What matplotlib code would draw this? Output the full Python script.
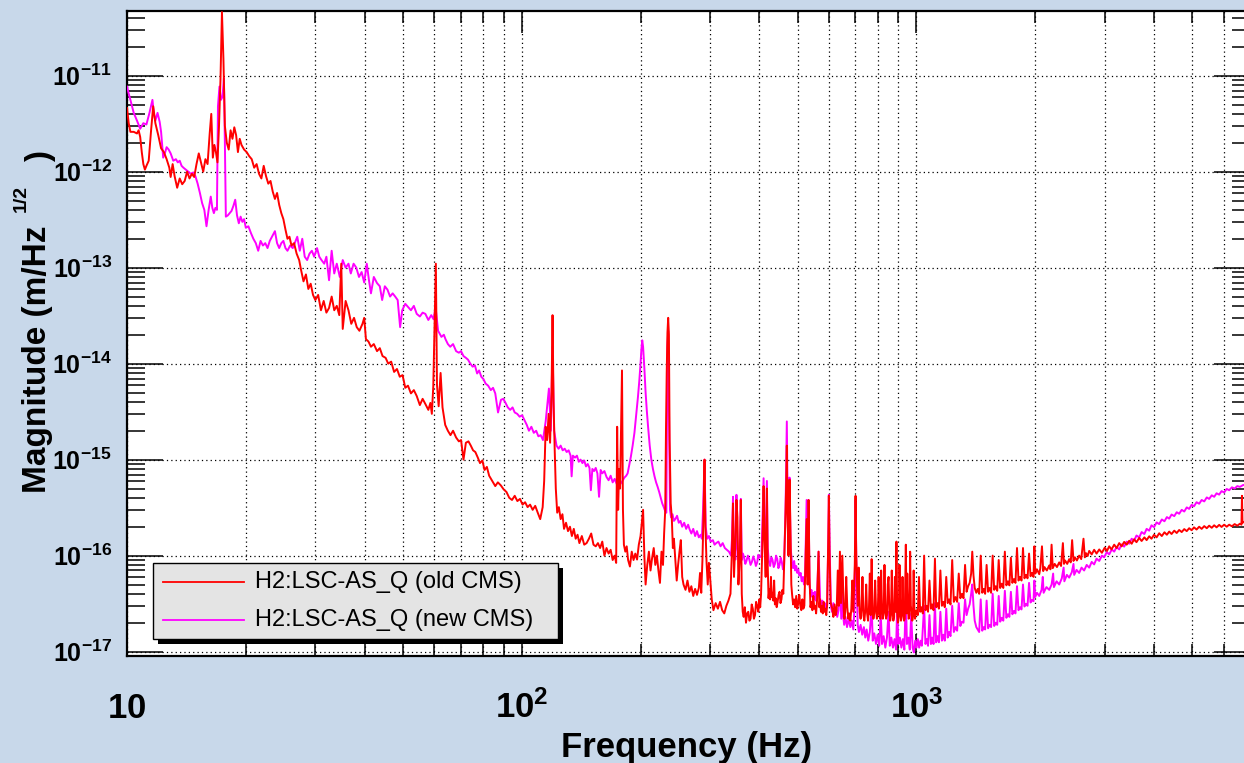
import numpy as np
import matplotlib
matplotlib.use("Agg")
import matplotlib.pyplot as plt
from matplotlib.ticker import FixedLocator, FixedFormatter, LogLocator, NullFormatter
from matplotlib.patches import Rectangle
from matplotlib.lines import Line2D

# ---- data: (frequency Hz, magnitude m/sqrt(Hz)) ----
old_cms = [
    (10.0, 4.6e-12), (10.1, 3.2e-12), (10.2, 2.6e-12), (10.4, 2.6e-12), (10.6, 2.5e-12), (10.7, 2.7e-12),
    (10.8, 2.3e-12), (10.9, 1.6e-12), (11.0, 1.2e-12), (11.1, 1.05e-12), (11.2, 1.15e-12), (11.35, 1.3e-12),
    (11.5, 2.6e-12), (11.65, 4.8e-12), (11.8, 3.2e-12), (12.0, 2.4e-12), (12.2, 1.75e-12), (12.4, 1.6e-12),
    (12.6, 1.35e-12), (12.8, 1.1e-12), (12.9, 8.8e-13), (13.05, 1.2e-12), (13.2, 9e-13), (13.4, 6.8e-13),
    (13.6, 8.5e-13), (13.8, 7.4e-13), (14.0, 8e-13), (14.2, 1.0e-12), (14.4, 8.5e-13), (14.6, 9.5e-13),
    (14.8, 8.8e-13), (15.0, 1.2e-12), (15.2, 1.55e-12), (15.4, 1.25e-12), (15.6, 1.0e-12), (15.8, 1.35e-12),
    (16.0, 1.2e-12), (16.2, 2.5e-12), (16.35, 4.0e-12), (16.5, 1.4e-12), (16.65, 1.9e-12), (16.8, 1.6e-12),
    (16.95, 1.25e-12), (17.1, 2.9e-12), (17.25, 9e-12), (17.4, 4.6e-11), (17.55, 1.5e-11), (17.7, 3.0e-12),
    (17.9, 2.0e-12), (18.1, 1.7e-12), (18.3, 2.7e-12), (18.5, 2.2e-12), (18.7, 2.9e-12), (18.9, 2.4e-12),
    (19.1, 1.6e-12), (19.3, 2.2e-12), (19.5, 1.9e-12), (19.8, 1.7e-12), (20.1, 1.6e-12), (20.4, 1.45e-12),
    (20.7, 1.35e-12), (21.0, 1.1e-12), (21.3, 1.2e-12), (21.6, 9.5e-13), (21.9, 8.5e-13), (22.2, 1.15e-12),
    (22.5, 9e-13), (22.8, 7.5e-13), (23.1, 8e-13), (23.4, 6.2e-13), (23.7, 5.2e-13), (24.0, 6e-13),
    (24.3, 4.5e-13), (24.6, 3.7e-13), (24.9, 3.2e-13), (25.2, 2.5e-13), (25.5, 2.0e-13), (25.8, 2.1e-13),
    (26.1, 1.7e-13), (26.5, 1.8e-13), (26.9, 1.4e-13), (27.3, 1.2e-13), (27.6, 9.5e-14), (28.0, 7.2e-14),
    (28.4, 8.5e-14), (28.8, 6.0e-14), (29.2, 6.8e-14), (29.6, 5.2e-14), (30.0, 4.6e-14), (30.5, 5.2e-14),
    (31.0, 3.6e-14), (31.5, 4.5e-14), (32.0, 3.4e-14), (32.5, 3.8e-14), (33.0, 5.0e-14), (33.5, 3.6e-14),
    (34.0, 4.0e-14), (34.5, 3.2e-14), (34.9, 1.1e-13), (35.2, 2.3e-14), (35.8, 4.5e-14), (36.4, 3.6e-14),
    (37.0, 2.6e-14), (37.6, 3.0e-14), (38.2, 2.4e-14), (38.8, 2.2e-14), (39.5, 2.6e-14), (39.9, 3.0e-14),
    (40.3, 1.8e-14), (40.9, 1.7e-14), (41.5, 1.5e-14), (42.2, 1.6e-14), (43.0, 1.35e-14), (43.7, 1.45e-14),
    (44.4, 1.2e-14), (45.2, 1.15e-14), (45.9, 1.0e-14), (46.7, 1.05e-14), (47.5, 8.2e-15), (48.3, 8.8e-15),
    (49.1, 7.3e-15), (49.9, 7.6e-15), (50.7, 5.6e-15), (51.5, 5.9e-15), (52.4, 4.9e-15), (53.3, 5.3e-15),
    (54.2, 4.6e-15), (55.2, 3.7e-15), (56.1, 4.3e-15), (57.0, 3.8e-15), (58.0, 3.3e-15), (58.7, 3.9e-15),
    (59.2, 3.0e-15), (59.7, 5.8e-15), (60.2, 3.0e-14), (60.6, 1.1e-13), (61.0, 6e-15), (61.6, 3.6e-15),
    (62.3, 8.0e-15), (63.0, 3.5e-15), (64.0, 2.3e-15), (65.0, 2.0e-15), (66.0, 1.8e-15), (67.0, 2.0e-15),
    (68.2, 1.7e-15), (69.3, 1.55e-15), (70.2, 1.6e-15), (71.2, 1.0e-15), (72.2, 1.5e-15), (73.3, 1.55e-15),
    (74.3, 1.4e-15), (75.3, 1.25e-15), (76.3, 1.2e-15), (77.4, 1.05e-15), (78.4, 9.2e-16), (79.5, 9.8e-16),
    (80.5, 7.8e-16), (81.6, 8.4e-16), (82.7, 6.8e-16), (84.2, 6.0e-16), (85.7, 5.3e-16), (87.0, 5.8e-16),
    (88.5, 5.4e-16), (90.0, 4.9e-16), (91.5, 4.6e-16), (93.0, 4.0e-16), (94.5, 3.8e-16), (96.0, 4.2e-16),
    (97.5, 3.7e-16), (99.0, 3.9e-16), (100.5, 3.4e-16), (102.0, 3.6e-16), (103.5, 3.2e-16), (105.0, 3.4e-16),
    (106.6, 3.0e-16), (108.2, 3.3e-16), (109.8, 2.8e-16), (111.4, 2.4e-16), (113.0, 3.2e-16), (114.0, 6e-16),
    (115.0, 2.2e-15), (116.0, 1.6e-15), (117.0, 3.0e-15), (118.0, 1.5e-15), (119.0, 5e-15), (119.7, 3.2e-14),
    (120.4, 4e-15), (121.2, 1.3e-15), (122.0, 5e-16), (123.0, 2.8e-16), (124.2, 3.2e-16), (125.5, 2.4e-16),
    (126.8, 2.7e-16), (128.0, 1.9e-16), (129.5, 2.2e-16), (131.0, 1.8e-16), (132.5, 2.0e-16), (134.0, 1.6e-16),
    (135.5, 1.9e-16), (137.0, 1.5e-16), (138.5, 1.65e-16), (140.0, 1.35e-16), (142.0, 1.6e-16), (144.0, 1.3e-16),
    (146.0, 1.35e-16), (148.0, 1.5e-16), (150.0, 1.7e-16), (152.0, 1.3e-16), (154.0, 1.25e-16), (156.0, 1.35e-16),
    (158.0, 1.2e-16), (160.0, 1.4e-16), (162.0, 1.0e-16), (164.0, 1.2e-16), (166.0, 1.05e-16), (168.0, 1.15e-16),
    (170.0, 9.0e-17), (172.0, 1.0e-16), (173.5, 8.4e-17), (174.5, 2.2e-15), (175.5, 3e-16), (176.5, 8e-16),
    (177.5, 5e-16), (178.5, 2e-15), (179.5, 8.5e-15), (180.5, 3e-16), (181.5, 1.3e-16), (183.0, 1.1e-16),
    (184.5, 1.25e-16), (186.0, 9e-17), (188.0, 7.7e-17), (190.0, 1.1e-16), (192.0, 9e-17), (194.0, 1.05e-16),
    (196.0, 9.1e-17), (198.0, 1.3e-16), (200.0, 1.6e-16), (201.5, 2.2e-16), (203.0, 3.0e-16), (204.5, 1e-16),
    (206.0, 5.0e-17), (208.0, 8e-17), (210.0, 1.1e-16), (212.0, 7e-17), (214.0, 9.5e-17), (216.0, 1.2e-16),
    (218.0, 8e-17), (220.0, 1.0e-16), (222.0, 7e-17), (224.0, 5.2e-17), (226.0, 1.1e-16), (228.0, 8e-17),
    (229.5, 1.7e-16), (231.0, 3e-16), (232.0, 2e-15), (233.0, 8e-15), (234.0, 2.1e-14), (235.0, 3.0e-14),
    (236.0, 2.0e-14), (237.0, 1.6e-15), (238.5, 3.5e-16), (240.0, 2.5e-16), (241.5, 1.2e-16), (243.0, 1.5e-16),
    (245.0, 9e-17), (247.0, 5.5e-17), (249.0, 8e-17), (251.0, 1.1e-16), (253.0, 1.45e-16), (255.0, 6e-17),
    (257.0, 5.0e-17), (260.0, 4.4e-17), (263.0, 5.5e-17), (266.0, 4.2e-17), (269.0, 4.8e-17), (272.0, 3.8e-17),
    (275.0, 4.5e-17), (278.0, 3.9e-17), (281.0, 4.6e-17), (283.0, 6.6e-17), (285.0, 4.1e-17), (287.0, 9e-17),
    (289.0, 3e-16), (290.5, 1.0e-15), (292.0, 2e-16), (294.0, 8.4e-17), (296.0, 5e-17), (298.0, 8.4e-17),
    (300.0, 6e-17), (303.0, 3.5e-17), (306.0, 2.7e-17), (310.0, 3.2e-17), (314.0, 2.8e-17), (318.0, 3.3e-17),
    (322.0, 2.7e-17), (326.0, 2.5e-17), (330.0, 3.0e-17), (334.0, 3.4e-17), (338.0, 4e-17), (341.0, 1.2e-16),
    (343.0, 3.5e-16), (345.0, 6e-17), (348.0, 1.5e-16), (350.0, 3.8e-16), (352.0, 2.5e-16), (354.0, 5e-17),
    (357.0, 1e-16), (359.0, 3.8e-16), (361.0, 4e-17), (363.0, 2.6e-17), (365.0, 2.3e-17), (367.5, 2.9e-17),
    (370.0, 2.0e-17), (372.5, 2.5e-17), (375.0, 2.6e-17), (377.5, 2.1e-17), (380.0, 2.2e-17), (382.5, 3.1e-17),
    (385.0, 2.8e-17), (387.5, 2.2e-17), (390.0, 2.4e-17), (392.5, 3.3e-17), (395.0, 3.0e-17), (397.5, 2.6e-17),
    (400.0, 3.5e-17), (402.0, 2.9e-17), (404.0, 4e-17), (407.0, 1.2e-16), (410.0, 5.3e-16), (412.0, 1.5e-16),
    (415.0, 6e-17), (418.0, 5.0e-16), (420.0, 8e-17), (422.0, 3.6e-17), (424.0, 4.5e-17), (426.0, 3.5e-17),
    (428.0, 6e-17), (430.0, 3.7e-17), (432.0, 4.1e-17), (434.0, 3.4e-17), (436.0, 5.5e-17), (438.0, 3.1e-17),
    (440.0, 3.6e-17), (442.5, 2.9e-17), (445.0, 3.3e-17), (447.5, 3.9e-17), (450.0, 4.2e-17), (452.5, 3.2e-17),
    (455.0, 3.5e-17), (457.5, 4.4e-17), (460.0, 4e-17), (465.0, 2e-16), (468.0, 6e-16), (469.5, 1.4e-15),
    (471.0, 3e-16), (474.0, 1e-16), (477.0, 6.2e-16), (480.0, 1.5e-16), (482.0, 5e-17), (484.0, 4e-17),
    (487.0, 3.1e-17), (490.0, 3.5e-17), (493.0, 2.9e-17), (496.0, 3.8e-17), (499.0, 2.8e-17), (502.0, 3.2e-17),
    (505.0, 3.9e-17), (508.0, 3.0e-17), (511.0, 2.7e-17), (514.0, 3.5e-17), (517.0, 2.8e-17), (520.0, 3.0e-17),
    (524.0, 1e-16), (527.0, 2.4e-16), (530.0, 5e-17), (533.0, 3.8e-16), (536.0, 6e-17), (539.0, 2.9e-17),
    (542.0, 3.3e-17), (545.0, 2.7e-17), (548.0, 3.8e-17), (551.0, 2.8e-17), (554.0, 3.0e-17), (557.0, 2.5e-17),
    (560.0, 3.4e-17), (565.0, 1.1e-16), (567.5, 2.9e-17), (570.0, 3.5e-17), (573.0, 2.6e-17), (576.0, 3.0e-17),
    (579.0, 2.5e-17), (582.0, 3.3e-17), (585.0, 2.6e-17), (588.0, 2.8e-17), (591.0, 2.4e-17), (594.0, 3.1e-17),
    (598.0, 1.5e-16), (600.0, 4.2e-16), (602.0, 1.2e-16), (606.0, 3.3e-17), (612.0, 2.8e-17), (616.0, 2.3e-17),
    (620.0, 3.1e-17), (624.0, 2.4e-17), (628.0, 2.7e-17), (632.0, 7e-17), (636.0, 3e-17), (640.0, 1.1e-16),
    (644.0, 3.2e-17), (649.0, 1.0e-16), (654.0, 2.8e-17), (657.0, 2.2e-17), (660.0, 2.6e-17), (664.0, 6e-17),
    (668.0, 2.9e-17), (672.0, 2.2e-17), (676.0, 2.5e-17), (680.0, 2.1e-17), (684.0, 2.8e-17), (688.0, 5.5e-17),
    (692.0, 2.6e-17), (698.0, 8e-17), (701.0, 4.2e-16), (704.0, 1.0e-16), (710.0, 3.0e-17), (714.0, 7.5e-17),
    (718.0, 2.6e-17), (722.0, 2.2e-17), (726.0, 2.8e-17), (730.0, 6e-17), (734.0, 2.4e-17), (738.0, 2.1e-17),
    (742.0, 2.7e-17), (746.0, 5e-17), (750.0, 2.5e-17), (754.0, 2.1e-17), (758.0, 2.8e-17), (762.0, 6.5e-17),
    (766.0, 2.4e-17), (770.0, 9.2e-17), (774.0, 2.7e-17), (778.0, 2.2e-17), (782.0, 2.5e-17), (786.0, 5.5e-17),
    (790.0, 2.8e-17), (794.0, 2.2e-17), (798.0, 2.4e-17), (802.0, 6e-17), (806.0, 2.6e-17), (810.0, 2.2e-17),
    (814.0, 7e-17), (818.0, 2.7e-17), (822.0, 2.2e-17), (826.0, 2.5e-17), (830.0, 8e-17), (834.0, 2.8e-17),
    (838.0, 2.2e-17), (842.0, 2.4e-17), (846.0, 5e-17), (850.0, 6e-17), (854.0, 2.6e-17), (858.0, 2.1e-17),
    (862.0, 2.4e-17), (866.0, 7e-17), (870.0, 2.7e-17), (874.0, 2.1e-17), (878.0, 2.3e-17), (882.0, 6e-17),
    (886.0, 2.6e-17), (890.0, 1.4e-16), (894.0, 2.5e-17), (898.0, 2.0e-17), (902.0, 2.3e-17), (906.0, 8e-17),
    (910.0, 2.7e-17), (914.0, 2.1e-17), (918.0, 2.4e-17), (922.0, 6e-17), (926.0, 2.6e-17), (930.0, 2.1e-17),
    (934.0, 2.2e-17), (940.0, 1.3e-16), (944.0, 2.5e-17), (948.0, 6.5e-17), (952.0, 2.8e-17), (956.0, 2.2e-17),
    (960.0, 2.4e-17), (964.0, 1.1e-16), (968.0, 3e-17), (972.0, 2.6e-17), (976.0, 2.1e-17), (980.0, 2.3e-17),
    (984.0, 7e-17), (988.0, 2.7e-17), (992.0, 2.2e-17), (996.0, 2.5e-17),
    (1000, 2.7e-17), (1008, 2.4e-17), (1015, 6e-17), (1022, 2.6e-17), (1030, 2.9e-17), (1038, 2.5e-17),
    (1046, 1.0e-16), (1054, 2.7e-17), (1062, 3.0e-17), (1070, 2.6e-17), (1079, 5.5e-17), (1088, 2.8e-17),
    (1096, 3.1e-17), (1105, 2.7e-17), (1114, 9.3e-17), (1122, 2.9e-17), (1131, 3.2e-17), (1140, 2.8e-17),
    (1150, 7e-17), (1160, 3.0e-17), (1170, 3.3e-17), (1180, 2.9e-17), (1190, 6e-17), (1200, 3.2e-17),
    (1210, 3.5e-17), (1220, 3.1e-17), (1232, 9e-17), (1244, 3.3e-17), (1256, 3.7e-17), (1268, 3.3e-17),
    (1280, 6.5e-17), (1292, 3.6e-17), (1304, 4.0e-17), (1316, 3.6e-17), (1328, 8e-17), (1340, 4.2e-17),
    (1352, 4.8e-17), (1364, 5.2e-17), (1376, 6.5e-17), (1385, 1.1e-16), (1395, 6.2e-17), (1405, 4.6e-17),
    (1418, 4.1e-17), (1430, 4.5e-17), (1442, 4.0e-17), (1455, 1.0e-16), (1468, 4.1e-17), (1480, 4.5e-17),
    (1493, 4.0e-17), (1506, 8e-17), (1519, 4.2e-17), (1532, 4.6e-17), (1546, 4.1e-17), (1560, 1.0e-16),
    (1574, 4.4e-17), (1588, 4.8e-17), (1602, 4.3e-17), (1616, 9e-17), (1630, 4.6e-17), (1645, 5.1e-17),
    (1660, 4.6e-17), (1675, 1.1e-16), (1690, 4.9e-17), (1705, 5.4e-17), (1720, 4.9e-17), (1735, 9.5e-17),
    (1750, 5.2e-17), (1766, 5.7e-17), (1782, 5.2e-17), (1798, 1.2e-16), (1814, 5.5e-17), (1830, 6.0e-17),
    (1846, 5.5e-17), (1862, 1.2e-16), (1878, 5.8e-17), (1895, 6.3e-17), (1912, 5.8e-17), (1929, 1.05e-16),
    (1946, 6.1e-17), (1963, 6.6e-17), (1980, 6.0e-17), (1990, 1.25e-16),
    (2000, 6.5e-17), (2020, 7.2e-17), (2047, 6.4e-17), (2060, 7.4e-17), (2080, 1.25e-16), (2095, 6.9e-17),
    (2110, 7.6e-17), (2140, 7.0e-17), (2170, 7.9e-17), (2185, 7.2e-17), (2200, 1.3e-16), (2215, 7.4e-17),
    (2240, 8.2e-17), (2270, 7.6e-17), (2300, 8.5e-17), (2325, 7.8e-17), (2350, 1.35e-16), (2365, 8.2e-17),
    (2380, 8.9e-17), (2410, 8.2e-17), (2438, 9.2e-17), (2460, 8.5e-17), (2480, 1.45e-16), (2500, 8.8e-17),
    (2520, 9.6e-17), (2550, 8.9e-17), (2584, 1.0e-16), (2615, 9.2e-17), (2650, 1.5e-16), (2670, 9.6e-17),
    (2690, 1.06e-16), (2715, 9.9e-17), (2740, 1.12e-16), (2780, 1.03e-16), (2820, 1.15e-16), (2860, 1.05e-16),
    (2905, 1.16e-16), (2950, 1.07e-16), (3000, 1.21e-16), (3040, 1.12e-16), (3079, 1.25e-16), (3120, 1.16e-16),
    (3170, 1.3e-16), (3215, 1.2e-16), (3264, 1.35e-16), (3310, 1.25e-16), (3360, 1.39e-16), (3410, 1.3e-16),
    (3460, 1.43e-16), (3510, 1.33e-16), (3560, 1.48e-16), (3610, 1.38e-16), (3668, 1.53e-16), (3720, 1.42e-16),
    (3780, 1.55e-16), (3830, 1.45e-16), (3888, 1.59e-16), (3940, 1.5e-16), (4000, 1.65e-16), (4060, 1.55e-16),
    (4121, 1.71e-16), (4185, 1.6e-16), (4250, 1.75e-16), (4310, 1.65e-16), (4369, 1.78e-16), (4430, 1.68e-16),
    (4500, 1.82e-16), (4565, 1.72e-16), (4631, 1.85e-16), (4700, 1.76e-16), (4770, 1.89e-16), (4840, 1.8e-16),
    (4909, 1.93e-16), (4980, 1.84e-16), (5050, 1.97e-16), (5125, 1.87e-16), (5204, 2.0e-16), (5280, 1.9e-16),
    (5360, 2.03e-16), (5440, 1.93e-16), (5516, 2.05e-16), (5600, 1.95e-16), (5680, 2.07e-16), (5760, 1.97e-16),
    (5848, 2.09e-16), (5930, 1.99e-16), (6020, 2.1e-16), (6110, 2.0e-16), (6199, 2.1e-16), (6300, 2.02e-16),
    (6400, 2.13e-16), (6500, 2.05e-16), (6600, 2.15e-16), (6660, 2.1e-16), (6680, 4.2e-16), (6700, 2.2e-16),
    (6770, 2.25e-16), (6850, 2.15e-16), (7000, 2.28e-16),
]

new_cms = [
    (10.0, 7.7e-12), (10.1, 6.5e-12), (10.2, 5.6e-12), (10.4, 4.1e-12), (10.6, 3.4e-12), (10.8, 2.8e-12),
    (10.9, 3.0e-12), (11.0, 3.2e-12), (11.2, 3.1e-12), (11.4, 4.1e-12), (11.6, 5.6e-12), (11.7, 4.0e-12),
    (11.8, 3.4e-12), (11.95, 4.1e-12), (12.1, 3.3e-12), (12.2, 2.6e-12), (12.35, 1.4e-12), (12.5, 1.6e-12),
    (12.6, 1.8e-12), (12.75, 1.7e-12), (12.9, 1.55e-12), (13.1, 1.3e-12), (13.3, 1.35e-12), (13.45, 1.25e-12),
    (13.6, 1.3e-12), (13.75, 1.15e-12), (13.9, 1.1e-12), (14.1, 1.05e-12), (14.3, 1.0e-12), (14.5, 9.5e-13),
    (14.7, 9.8e-13), (14.9, 9e-13), (15.1, 7.5e-13), (15.3, 6e-13), (15.5, 4.7e-13), (15.7, 4e-13),
    (15.9, 2.7e-13), (16.1, 4e-13), (16.3, 5.5e-13), (16.45, 4.2e-13), (16.6, 3.7e-13), (16.75, 4.2e-13),
    (16.9, 4e-13), (17.0, 4.8e-12), (17.15, 7.7e-12), (17.3, 5.6e-12), (17.45, 6e-12), (17.6, 9.4e-12),
    (17.7, 2e-12), (17.8, 3.4e-13), (18.0, 3.5e-13), (18.2, 3.7e-13), (18.4, 3.9e-13), (18.6, 4.4e-13),
    (18.8, 5.1e-13), (19.0, 3.5e-13), (19.2, 2.9e-13), (19.4, 3.4e-13), (19.6, 3.0e-13), (19.8, 3.2e-13),
    (20.0, 2.6e-13), (20.3, 2.7e-13), (20.6, 2.3e-13), (20.9, 2.0e-13), (21.2, 1.8e-13), (21.5, 1.5e-13),
    (21.8, 1.9e-13), (22.1, 1.7e-13), (22.4, 1.8e-13), (22.7, 1.6e-13), (23.0, 1.9e-13), (23.3, 2.1e-13),
    (23.7, 2.4e-13), (24.0, 1.8e-13), (24.3, 1.6e-13), (24.6, 1.8e-13), (24.9, 1.9e-13), (25.2, 1.6e-13),
    (25.5, 1.5e-13), (25.9, 1.7e-13), (26.3, 1.6e-13), (26.6, 1.8e-13), (27.0, 2.1e-13), (27.4, 1.5e-13),
    (27.8, 2.0e-13), (28.2, 1.3e-13), (28.6, 1.2e-13), (29.0, 1.4e-13), (29.4, 1.5e-13), (29.8, 1.3e-13),
    (30.3, 1.6e-13), (30.7, 1.3e-13), (31.1, 1.2e-13), (31.6, 1.1e-13), (32.0, 1.3e-13), (32.5, 7.4e-14),
    (33.0, 1.5e-13), (33.5, 8.7e-14), (34.0, 1.1e-13), (34.6, 8e-14), (35.2, 1.2e-13), (35.8, 1.0e-13),
    (36.4, 1.1e-13), (36.9, 8.7e-14), (37.5, 1.1e-13), (38.1, 1.0e-13), (38.7, 8e-14), (39.3, 9e-14),
    (39.9, 7.0e-14), (40.5, 1.1e-13), (41.0, 7.5e-14), (41.5, 5.4e-14), (42.2, 8e-14), (43.0, 6.9e-14),
    (43.7, 6.4e-14), (44.3, 4.6e-14), (45.0, 6.4e-14), (45.7, 5.9e-14), (46.4, 5.0e-14), (47.1, 5.4e-14),
    (47.8, 5.0e-14), (48.5, 4.6e-14), (49.2, 2.4e-14), (49.8, 3.6e-14), (50.7, 4.2e-14), (51.5, 3.9e-14),
    (52.4, 3.6e-14), (53.3, 4.0e-14), (54.2, 3.3e-14), (55.2, 3.1e-14), (56.1, 3.4e-14), (57.0, 3.3e-14),
    (58.0, 2.85e-14), (59.0, 3.2e-14), (59.8, 2.9e-14), (60.5, 3.9e-14), (61.4, 2.2e-14), (62.6, 1.9e-14),
    (63.5, 2.0e-14), (64.1, 1.8e-14), (65.0, 1.6e-14), (65.9, 1.5e-14), (67.0, 1.6e-14), (68.2, 1.35e-14),
    (69.3, 1.3e-14), (70.2, 1.35e-14), (71.2, 1.2e-14), (72.2, 1.15e-14), (73.1, 1.1e-14), (74.1, 1.0e-14),
    (75.1, 9.3e-15), (76.1, 9.6e-15), (77.1, 7.9e-15), (78.0, 8.5e-15), (79.0, 7.3e-15), (80.0, 6.9e-15),
    (81.0, 6.2e-15), (82.2, 5.9e-15), (83.5, 5.3e-15), (84.6, 5.6e-15), (85.7, 4.9e-15), (87.1, 3.1e-15),
    (88.6, 4.2e-15), (89.8, 4.3e-15), (91.0, 3.9e-15), (92.2, 3.5e-15), (93.5, 3.3e-15), (94.8, 3.5e-15),
    (96.0, 3.1e-15), (97.4, 3.0e-15), (98.8, 2.8e-15), (100.2, 2.9e-15), (101.5, 2.6e-15), (103.0, 2.3e-15),
    (104.3, 2.0e-15), (105.8, 2.2e-15), (107.3, 1.9e-15), (108.8, 2.0e-15), (110.2, 1.75e-15), (111.7, 1.8e-15),
    (113.2, 1.6e-15), (115.0, 2.5e-15), (117.2, 5.5e-15), (118.5, 2e-15), (119.7, 1.5e-14), (120.8, 2e-15),
    (122.5, 1.4e-15), (124.0, 1.3e-15), (125.5, 1.4e-15), (127.0, 1.25e-15), (128.5, 1.3e-15), (130.0, 1.2e-15),
    (131.5, 1.25e-15), (133.0, 1.1e-15), (133.8, 6.7e-16), (134.8, 1.1e-15), (136.5, 1.05e-15), (138.0, 1.1e-15),
    (139.5, 9.5e-16), (141.0, 1.0e-15), (142.5, 9.2e-16), (144.0, 9.8e-16), (145.5, 8.5e-16), (147.0, 9.0e-16),
    (148.5, 8.2e-16), (149.7, 4.8e-16), (151.0, 8.0e-16), (152.5, 7.6e-16), (154.0, 8.2e-16), (155.5, 7.2e-16),
    (157.0, 4.1e-16), (158.5, 7.8e-16), (160.0, 7.2e-16), (162.0, 7.6e-16), (164.0, 6.6e-16), (166.0, 6.1e-16),
    (168.0, 6.8e-16), (170.0, 5.8e-16), (172.0, 6.3e-16), (174.0, 5.6e-16), (176.0, 6.4e-16), (178.0, 5.6e-16),
    (180.0, 6.0e-16), (182.0, 6.5e-16), (184.0, 6.8e-16), (185.5, 7.2e-16), (187.0, 8.5e-16), (189.0, 1.07e-15),
    (191.0, 1.4e-15), (193.0, 1.9e-15), (195.0, 2.9e-15), (197.0, 4.5e-15), (198.5, 6.5e-15), (200.0, 1.0e-14),
    (201.0, 1.4e-14), (202.0, 1.75e-14), (203.0, 1.5e-14), (204.5, 9e-15), (206.0, 5e-15), (207.5, 3.2e-15),
    (209.0, 2.2e-15), (211.0, 1.4e-15), (213.0, 1.0e-15), (215.0, 8.0e-16), (217.0, 6.7e-16), (219.0, 5.8e-16),
    (221.0, 5.2e-16), (223.0, 4.6e-16), (225.0, 4.0e-16), (227.0, 3.5e-16), (229.0, 3.2e-16), (231.0, 2.9e-16),
    (232.5, 2.8e-16), (234.0, 1.5e-14), (235.0, 2.2e-14), (236.0, 4e-15), (237.5, 3.0e-16), (239.0, 2.5e-16),
    (241.0, 2.7e-16), (243.0, 2.3e-16), (245.0, 2.4e-16), (247.5, 2.6e-16), (250.0, 2.2e-16), (252.5, 2.3e-16),
    (255.0, 2.0e-16), (258.0, 2.2e-16), (261.0, 1.9e-16), (264.0, 2.1e-16), (266.0, 1.9e-16), (269.0, 1.7e-16),
    (272.0, 1.9e-16), (275.0, 1.6e-16), (278.0, 1.8e-16), (281.0, 1.55e-16), (284.0, 1.65e-16), (286.0, 1.5e-16),
    (288.0, 3e-16), (290.5, 1.0e-15), (292.5, 2e-16), (295.0, 1.5e-16), (298.0, 1.6e-16), (301.0, 1.4e-16),
    (305.0, 1.45e-16), (308.0, 1.3e-16), (311.0, 1.35e-16), (315.0, 1.4e-16), (319.0, 1.25e-16), (323.0, 1.35e-16),
    (327.0, 1.2e-16), (331.0, 1.15e-16), (335.0, 1.1e-16), (339.0, 1.0e-16), (341.0, 1.5e-16), (343.0, 4.1e-16),
    (345.0, 1.0e-16), (348.0, 9.1e-17), (350.0, 4.3e-16), (352.0, 1.2e-16), (355.0, 9.5e-17), (357.5, 1.5e-16),
    (359.0, 3.9e-16), (361.0, 9.0e-17), (363.5, 1.05e-16), (366.0, 9.5e-17), (368.5, 8.2e-17), (371.0, 8.8e-17),
    (374.0, 1.0e-16), (377.0, 9.2e-17), (380.0, 8.0e-17), (383.0, 8.6e-17), (386.0, 9.8e-17), (389.0, 9.0e-17),
    (392.0, 7.8e-17), (395.0, 8.5e-17), (397.5, 1.02e-16), (400.0, 9.5e-17), (405.0, 1.0e-16), (407.0, 2e-16),
    (410.0, 6.4e-16), (412.0, 2e-16), (415.0, 1.1e-16), (418.0, 6.0e-16), (420.0, 1.2e-16), (423.0, 8.6e-17),
    (426.0, 7.8e-17), (429.0, 9.6e-17), (432.0, 9e-17), (435.0, 7.6e-17), (438.0, 8.2e-17), (441.0, 1.0e-16),
    (444.0, 9.2e-17), (447.0, 7.4e-17), (450.0, 8.0e-17), (453.0, 9.5e-17), (456.0, 8.6e-17), (459.0, 7.2e-17),
    (462.0, 8.0e-17), (466.0, 3e-16), (469.5, 2.5e-15), (472.0, 3e-16), (475.0, 1.5e-16), (477.0, 6.5e-16),
    (480.0, 1.2e-16), (484.0, 8.4e-17), (487.0, 7.4e-17), (490.0, 8.8e-17), (493.0, 7.0e-17), (496.0, 7.8e-17),
    (499.0, 6.6e-17), (502.0, 7.2e-17), (505.0, 6.2e-17), (509.0, 6.6e-17), (512.0, 5.4e-17), (516.0, 6.0e-17),
    (519.0, 5.0e-17), (522.0, 5.6e-17), (527.0, 3.8e-16), (530.0, 6e-17), (533.0, 3.8e-16), (536.0, 5.0e-17),
    (539.0, 4.0e-17), (542.0, 4.4e-17), (545.0, 3.7e-17), (547.0, 4.1e-17), (550.0, 3.5e-17), (553.0, 4.2e-17),
    (556.0, 3.4e-17), (560.0, 3.8e-17), (565.0, 1.1e-16), (570.0, 3.6e-17), (574.0, 3.0e-17), (578.0, 3.4e-17),
    (582.0, 2.8e-17), (586.0, 3.2e-17), (590.0, 2.6e-17), (594.0, 3.0e-17), (598.0, 1.5e-16), (600.0, 4.3e-16),
    (603.0, 1.2e-16), (607.0, 3.0e-17), (611.0, 2.6e-17), (616.0, 3.2e-17), (620.0, 2.5e-17), (625.0, 2.9e-17),
    (630.0, 2.3e-17), (635.0, 2.7e-17), (640.0, 6e-17), (645.0, 2.2e-17), (649.0, 5.5e-17), (652.0, 2.4e-17),
    (656.0, 1.9e-17), (661.0, 2.3e-17), (667.0, 1.8e-17), (673.0, 2.2e-17), (680.0, 1.8e-17), (686.0, 2.1e-17),
    (692.0, 1.7e-17), (697.0, 3e-17), (701.0, 3.8e-16), (705.0, 6e-17), (710.0, 1.9e-17), (715.0, 1.6e-17),
    (722.0, 1.9e-17), (729.0, 1.5e-17), (736.0, 1.8e-17), (742.0, 1.4e-17), (748.0, 1.7e-17), (755.0, 1.3e-17),
    (762.0, 1.6e-17), (770.0, 3e-17), (775.0, 1.3e-17), (782.0, 1.55e-17), (790.0, 1.2e-17), (797.0, 1.5e-17),
    (805.0, 1.15e-17), (812.0, 2.5e-17), (818.0, 1.2e-17), (826.0, 1.45e-17), (834.0, 1.1e-17), (842.0, 1.4e-17),
    (850.0, 2.6e-17), (856.0, 1.15e-17), (864.0, 1.4e-17), (872.0, 1.1e-17), (880.0, 1.35e-17), (888.0, 1.05e-17),
    (894.0, 3e-17), (900.0, 1.2e-17), (908.0, 1.4e-17), (916.0, 1.1e-17), (924.0, 1.35e-17), (932.0, 1.05e-17),
    (940.0, 4e-17), (946.0, 1.2e-17), (954.0, 1.4e-17), (962.0, 1.05e-17), (970.0, 2.5e-17), (978.0, 1.1e-17),
    (985.0, 9.8e-18), (993.0, 1.3e-17), (1000, 1.1e-17),
    (1008, 1.35e-17), (1016, 1.1e-17), (1024, 1.3e-17), (1032, 1.15e-17), (1046, 3.0e-17), (1054, 1.2e-17),
    (1062, 1.35e-17), (1070, 1.15e-17), (1079, 2.4e-17), (1088, 1.2e-17), (1096, 1.4e-17), (1105, 1.2e-17),
    (1114, 3.2e-17), (1122, 1.25e-17), (1131, 1.45e-17), (1140, 1.25e-17), (1150, 2.6e-17), (1160, 1.3e-17),
    (1170, 1.5e-17), (1180, 1.3e-17), (1190, 2.8e-17), (1200, 1.4e-17), (1210, 1.6e-17), (1220, 1.45e-17),
    (1232, 3e-17), (1244, 1.6e-17), (1256, 1.8e-17), (1268, 1.65e-17), (1280, 3.2e-17), (1292, 1.85e-17),
    (1304, 2.05e-17), (1316, 2.0e-17), (1328, 3.5e-17), (1340, 2.4e-17), (1352, 2.8e-17), (1364, 3.1e-17),
    (1376, 4.0e-17), (1385, 5.0e-17), (1395, 3.0e-17), (1405, 2.1e-17), (1418, 1.8e-17), (1430, 1.7e-17),
    (1442, 1.6e-17), (1455, 3.5e-17), (1468, 1.65e-17), (1480, 1.8e-17), (1493, 1.7e-17), (1506, 3.4e-17),
    (1519, 1.75e-17), (1532, 1.9e-17), (1546, 1.8e-17), (1560, 4e-17), (1574, 1.85e-17), (1588, 2.0e-17),
    (1602, 1.9e-17), (1616, 3.8e-17), (1630, 2.05e-17), (1645, 2.25e-17), (1660, 2.1e-17), (1675, 4.3e-17),
    (1690, 2.25e-17), (1705, 2.45e-17), (1720, 2.3e-17), (1735, 4.2e-17), (1750, 2.45e-17), (1766, 2.65e-17),
    (1782, 2.5e-17), (1798, 4.8e-17), (1814, 2.7e-17), (1830, 2.9e-17), (1846, 2.75e-17), (1862, 5e-17),
    (1878, 2.95e-17), (1895, 3.15e-17), (1912, 3.0e-17), (1929, 5.2e-17), (1946, 3.25e-17), (1963, 3.45e-17),
    (1980, 3.35e-17), (1990, 5.5e-17),
    (2000, 3.7e-17), (2020, 4.1e-17), (2047, 3.8e-17), (2075, 4.4e-17), (2090, 6e-17), (2100, 4.1e-17),
    (2135, 4.7e-17), (2170, 4.4e-17), (2200, 5.0e-17), (2220, 6.5e-17), (2230, 4.7e-17), (2265, 5.4e-17),
    (2300, 5.0e-17), (2335, 5.8e-17), (2360, 7.5e-17), (2370, 5.4e-17), (2405, 6.3e-17), (2438, 5.9e-17),
    (2475, 6.7e-17), (2500, 8.2e-17), (2510, 6.3e-17), (2545, 7.1e-17), (2584, 6.6e-17), (2620, 7.5e-17),
    (2660, 7.0e-17), (2700, 8.0e-17), (2740, 7.5e-17), (2780, 8.6e-17), (2820, 8.1e-17), (2860, 9.3e-17),
    (2905, 8.8e-17), (2950, 1.0e-16), (2990, 9.6e-17), (3035, 1.09e-16), (3079, 1.03e-16), (3125, 1.16e-16),
    (3170, 1.1e-16), (3215, 1.23e-16), (3264, 1.16e-16), (3310, 1.31e-16), (3360, 1.24e-16), (3410, 1.4e-16),
    (3460, 1.33e-16), (3510, 1.5e-16), (3560, 1.43e-16), (3610, 1.62e-16), (3668, 1.55e-16), (3720, 1.76e-16),
    (3780, 1.68e-16), (3830, 1.9e-16), (3888, 1.82e-16), (3940, 2.07e-16), (4000, 1.98e-16), (4060, 2.22e-16),
    (4121, 2.13e-16), (4185, 2.38e-16), (4250, 2.28e-16), (4310, 2.52e-16), (4369, 2.43e-16), (4430, 2.68e-16),
    (4500, 2.58e-16), (4565, 2.83e-16), (4631, 2.73e-16), (4700, 3.0e-16), (4770, 2.88e-16), (4840, 3.18e-16),
    (4909, 3.07e-16), (4980, 3.38e-16), (5050, 3.27e-16), (5125, 3.6e-16), (5204, 3.47e-16), (5280, 3.8e-16),
    (5360, 3.67e-16), (5440, 4.04e-16), (5516, 3.9e-16), (5600, 4.25e-16), (5680, 4.1e-16), (5760, 4.46e-16),
    (5848, 4.32e-16), (5930, 4.7e-16), (6020, 4.55e-16), (6110, 4.95e-16), (6199, 4.8e-16), (6300, 5.15e-16),
    (6400, 5.0e-16), (6500, 5.3e-16), (6600, 5.2e-16), (6730, 5.45e-16), (6850, 5.4e-16), (7000, 5.65e-16),
]

legend_labels = ["H2:LSC-AS_Q (old CMS)", "H2:LSC-AS_Q (new CMS)"]
x_major = [10, 100, 1000]
x_major_labels = [r"$\mathbf{10}$", r"$\mathbf{10^{2}}$", r"$\mathbf{10^{3}}$"]
x_minor = [20, 30, 40, 50, 60, 70, 80, 90, 200, 300, 400, 500, 600, 700, 800, 900,
           2000, 3000, 4000, 5000, 6000]
y_major = [1e-17, 1e-16, 1e-15, 1e-14, 1e-13, 1e-12, 1e-11]
y_major_labels = [r"$\mathbf{10^{-%d}}$" % e for e in range(17, 10, -1)]

W, H = 1244, 763
BG = "#c8d8ea"
RED = "#ff0000"
MAGENTA = "#ff00ff"

plt.rcParams["font.family"] = ["Liberation Sans", "DejaVu Sans"]
plt.rcParams["mathtext.fontset"] = "custom"
plt.rcParams["mathtext.rm"] = "Liberation Sans"
plt.rcParams["mathtext.bf"] = "Liberation Sans:bold"
plt.rcParams["mathtext.it"] = "Liberation Sans:italic"


def fx(px):
    return px / W


def fy(py):
    return 1 - py / H


fig = plt.figure(figsize=(W / 100, H / 100), dpi=100, facecolor=BG)
ax = fig.add_axes([fx(127), fy(656), (1250 - 127) / W, (656 - 11) / H])
ax.set_facecolor("white")

f_old, m_old = np.array(old_cms).T
f_new, m_new = np.array(new_cms).T
ax.plot(f_new, m_new, color=MAGENTA, lw=1.4, zorder=3)
ax.plot(f_old, m_old, color=RED, lw=1.4, zorder=4)

ax.set_xscale("log")
ax.set_yscale("log")
ax.set_xlim(10, 7000)
ax.set_ylim(9.0e-18, 4.72e-11)

ax.xaxis.set_major_locator(FixedLocator(x_major))
ax.xaxis.set_major_formatter(NullFormatter())
ax.xaxis.set_minor_locator(FixedLocator(x_minor))
ax.xaxis.set_minor_formatter(NullFormatter())
ax.yaxis.set_major_locator(FixedLocator(y_major))
ax.yaxis.set_major_formatter(FixedFormatter(y_major_labels))
ax.yaxis.set_minor_locator(LogLocator(base=10, subs=np.arange(2, 10), numticks=30))
ax.yaxis.set_minor_formatter(NullFormatter())

ax.tick_params(which="both", direction="in", top=True, right=True, width=1.1, color="black")
ax.tick_params(axis="x", which="major", length=16)
ax.tick_params(axis="x", which="minor", length=8.5)
ax.tick_params(axis="y", which="major", length=26, labelsize=18, pad=11)
ax.tick_params(axis="y", which="minor", length=13)

ax.grid(True, axis="x", which="both", color="black", lw=0.9, linestyle=(0, (1, 2.5)))
ax.grid(True, axis="y", which="major", color="black", lw=0.9, linestyle=(0, (1, 2.5)))
ax.set_axisbelow(True)
for s in ax.spines.values():
    s.set_linewidth(1.6)

# x tick labels, aligned on the baseline of the "10"
for xv, lab in zip(x_major, x_major_labels):
    ax.text(xv, -62 / 645, lab, transform=ax.get_xaxis_transform(), ha="center", va="baseline",
            fontsize=25, clip_on=False)

# axis titles
fig.text(fx(812), fy(757), "Frequency (Hz)", ha="right", va="baseline", fontsize=25, fontweight="bold")
fig.text(fx(38), fy(493), "Magnitude (m/Hz", rotation=90, ha="center", va="bottom",
         fontsize=24, fontweight="bold")
fig.text(fx(21), fy(199), "1/2", rotation=90, ha="center", va="center", fontsize=14, fontweight="bold")
fig.text(fx(41), fy(157), ")", rotation=90, ha="center", va="center", fontsize=24, fontweight="bold")

# legend box with a hard black shadow
tf = fig.transFigure
fig.patches.append(Rectangle((fx(158), fy(644)), (563 - 158) / W, (644 - 568) / H, transform=tf,
                             facecolor="black", edgecolor="none", zorder=5))
fig.patches.append(Rectangle((fx(153), fy(639)), (558 - 153) / W, (639 - 563) / H, transform=tf,
                             facecolor="#e4e4e4", edgecolor="black", lw=1.0, zorder=6))
for yy, col, lab in zip([582, 620], [RED, MAGENTA], legend_labels):
    fig.lines.append(Line2D([fx(163), fx(244)], [fy(yy), fy(yy)], transform=tf, color=col, lw=1.3, zorder=7))
    fig.text(fx(255), fy(yy), lab, ha="left", va="center", fontsize=17, zorder=8)

fig.savefig("out.png", dpi=100, facecolor=BG)
